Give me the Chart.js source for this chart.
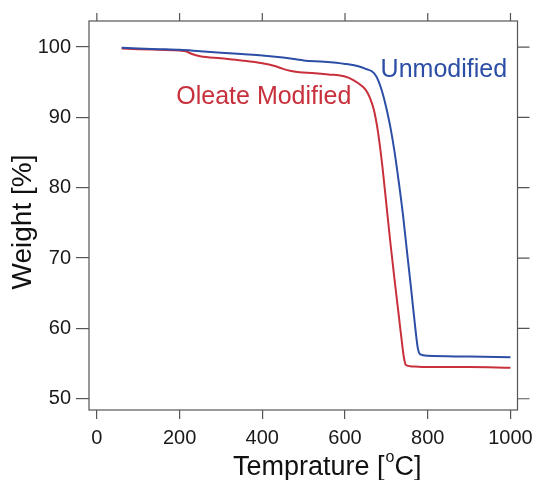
<!DOCTYPE html>
<html>
<head>
<meta charset="utf-8">
<script src="https://cdn.jsdelivr.net/npm/chart.js@4.4.1/dist/chart.umd.min.js"></script>
<style>
  body { margin: 0; background: #fff; }
  #wrap { width: 540px; height: 480px; }
</style>
</head>
<body>
<div id="wrap"><canvas id="tgaChart"></canvas></div>
<script>
// TGA curves
const unmodTemp = [60, 100, 150, 200, 250, 300, 350, 400, 450, 500, 550, 600, 630, 650, 670, 680, 690, 700, 710, 720, 730, 740, 750, 760, 770, 776, 782, 800, 900, 1000];
const unmodWeight = [99.9, 99.8, 99.7, 99.6, 99.4, 99.2, 99.0, 98.8, 98.5, 98.1, 97.9, 97.6, 97.3, 96.9, 96.3, 95.3, 93.6, 91.3, 88.5, 85.0, 80.8, 76.2, 70.8, 65.5, 60.0, 57.2, 56.3, 56.1, 56.0, 55.9];

const oleateTemp = [60, 100, 150, 200, 215, 230, 250, 300, 350, 400, 430, 450, 470, 490, 520, 560, 600, 620, 640, 650, 660, 670, 680, 690, 700, 710, 720, 730, 737, 742, 747, 760, 800, 900, 1000];
const oleateWeight = [99.8, 99.7, 99.6, 99.5, 99.4, 99.0, 98.7, 98.4, 98.1, 97.7, 97.3, 96.9, 96.6, 96.4, 96.3, 96.1, 95.8, 95.3, 94.5, 93.9, 92.8, 91.0, 87.8, 83.2, 77.6, 72.0, 66.8, 61.8, 58.3, 56.0, 54.8, 54.6, 54.5, 54.5, 54.4];

const xTicks = [0, 200, 400, 600, 800, 1000];
const yTicks = [50, 60, 70, 80, 90, 100];

const blue = "#2c4ea6";
const red = "#c8303c";
const axisColor = "#555";
const font = "'Liberation Sans', Arial, sans-serif";

const toPoints = (xs, ys) => xs.map((x, i) => ({ x: x, y: ys[i] }));

// frame, top/right ticks, axis titles and curve labels
const framePlugin = {
  id: "frame",
  afterDraw(chart) {
    const ctx = chart.ctx;
    const a = chart.chartArea;
    const xs = chart.scales.x;
    const ys = chart.scales.y;
    ctx.save();
    ctx.strokeStyle = axisColor;
    ctx.lineWidth = 1.2;
    ctx.strokeRect(a.left, a.top, a.right - a.left, a.bottom - a.top);
    ctx.beginPath();
    xTicks.forEach((t) => {
      const px = xs.getPixelForValue(t);
      ctx.moveTo(px, a.top);
      ctx.lineTo(px, a.top - 8);
    });
    yTicks.forEach((t) => {
      const py = ys.getPixelForValue(t);
      ctx.moveTo(a.right, py);
      ctx.lineTo(a.right + 12, py);
    });
    ctx.stroke();

    // curve labels
    ctx.font = "25px " + font;
    ctx.textBaseline = "middle";
    ctx.textAlign = "left";
    ctx.fillStyle = blue;
    ctx.fillText("Unmodified", xs.getPixelForValue(686), ys.getPixelForValue(96.7));
    ctx.fillStyle = red;
    ctx.fillText("Oleate Modified", xs.getPixelForValue(192), ys.getPixelForValue(92.9));

    // x title with superscript o
    ctx.fillStyle = "#111";
    ctx.textBaseline = "alphabetic";
    ctx.font = "27px " + font;
    const main = "Temprature [";
    let x0 = 233;
    ctx.fillText(main, x0, 475);
    x0 += ctx.measureText(main).width;
    ctx.font = "16px " + font;
    ctx.fillText("o", x0 + 1, 462);
    x0 += ctx.measureText("o").width + 1;
    ctx.font = "27px " + font;
    ctx.fillText("C]", x0, 475);

    // y title
    ctx.translate(23, 222);
    ctx.rotate(-Math.PI / 2);
    ctx.textAlign = "center";
    ctx.textBaseline = "middle";
    ctx.font = "28px " + font;
    ctx.fillText("Weight [%]", 0, 0);
    ctx.restore();
  },
};

new Chart(document.getElementById("tgaChart"), {
  type: "line",
  data: {
    datasets: [
      {
        label: "Unmodified",
        data: toPoints(unmodTemp, unmodWeight),
        borderColor: blue,
        borderWidth: 2,
        pointRadius: 0,
        cubicInterpolationMode: "monotone",
      },
      {
        label: "Oleate Modified",
        data: toPoints(oleateTemp, oleateWeight),
        borderColor: red,
        borderWidth: 2,
        pointRadius: 0,
        cubicInterpolationMode: "monotone",
      },
    ],
  },
  options: {
    responsive: true,
    maintainAspectRatio: false,
    animation: false,
    layout: { padding: { left: 0, top: 21, right: 17, bottom: 0 } },
    plugins: {
      legend: { display: false },
      tooltip: { enabled: false },
    },
    scales: {
      x: {
        type: "linear",
        min: -19,
        max: 1017,
        afterBuildTicks: (scale) => {
          scale.ticks = xTicks.map((v) => ({ value: v }));
        },
        afterFit: (scale) => {
          scale.height = 70;
        },
        border: { display: false },
        grid: { drawOnChartArea: false, drawTicks: true, tickLength: 9, color: axisColor, lineWidth: 1.2 },
        ticks: {
          color: "#1a1a1a",
          font: { family: font, size: 20 },
          padding: 7,
          maxRotation: 0,
          callback: (v) => String(v),
        },
      },
      y: {
        min: 48.4,
        max: 103.7,
        afterBuildTicks: (scale) => {
          scale.ticks = yTicks.map((v) => ({ value: v }));
        },
        afterFit: (scale) => {
          scale.width = 89;
        },
        border: { display: false },
        grid: { drawOnChartArea: false, drawTicks: true, tickLength: 13, color: axisColor, lineWidth: 1.2 },
        ticks: { color: "#1a1a1a", font: { family: font, size: 20 }, padding: 5 },
      },
    },
  },
  plugins: [framePlugin],
});
</script>
</body>
</html>
